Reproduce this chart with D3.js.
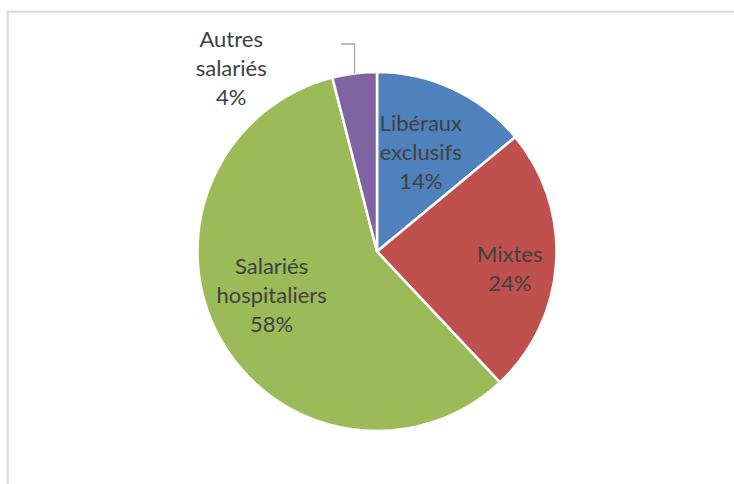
<!DOCTYPE html>
<html>
<head>
<meta charset="utf-8">
<script src="https://cdn.jsdelivr.net/npm/d3@7"></script>
<style>
  body { margin: 0; background: #fff; }
  svg { display: block; }
</style>
</head>
<body>
<svg id="chart" width="734" height="484"></svg>
<script>
// data
var categories = ["Libéraux exclusifs", "Mixtes", "Salariés hospitaliers", "Autres salariés"];
var values = [14, 24, 58, 4];
var labelLines = [["Libéraux", "exclusifs"], ["Mixtes"], ["Salariés", "hospitaliers"], ["Autres", "salariés"]];
var colors = ["#4F81BD", "#C0504D", "#9BBB59", "#8064A2"];

// layout
var cx = 377, cy = 251.5, radius = 179.5;
var lineH = 29, fontSize = 22;
// label nudges from the mid-angle point at radius 110
var nudges = [[-3, 0], [23, 10], [-9, -9], [-132, -74]];

var svg = d3.select("#chart");

// chart area border (runs off page at right and bottom)
svg.append("rect")
	.attr("x", 7.7).attr("y", 11.7)
	.attr("width", 800).attr("height", 600)
	.attr("fill", "none")
	.attr("stroke", "#d9d9d9")
	.attr("stroke-width", 2);

var pie = d3.pie().sort(null).value(function(d) { return d; });
var arcs = pie(values);

var arc = d3.arc().innerRadius(0).outerRadius(radius);
var labelArc = d3.arc().innerRadius(110).outerRadius(110);
var edgeArc = d3.arc().innerRadius(radius).outerRadius(radius);

var g = svg.append("g").attr("transform", "translate(" + cx + "," + cy + ")");

g.selectAll("path.slice")
	.data(arcs)
	.enter().append("path")
	.attr("class", "slice")
	.attr("d", arc)
	.attr("fill", function(d, i) { return colors[i]; })
	.attr("stroke", "#fff")
	.attr("stroke-width", 2.5)
	.attr("stroke-linejoin", "round");

// leader line for the small outside slice
var last = arcs[3];
var p0 = edgeArc.centroid(last);
var elbowY = 44 - cy;
g.append("path")
	.attr("d", d3.line()([[p0[0], p0[1]], [p0[0], elbowY], [p0[0] - 13.5, elbowY]]))
	.attr("fill", "none")
	.attr("stroke", "#a6a6a6")
	.attr("stroke-width", 1.3);

// labels
arcs.forEach(function(d, i) {
	var c = labelArc.centroid(d);
	var x = c[0] + nudges[i][0];
	var y = c[1] + nudges[i][1];
	var lines = labelLines[i].concat([values[i] + "%"]);
	var n = lines.length;
	var t = g.append("text")
		.attr("text-anchor", "middle")
		.attr("font-family", "Lato, 'Open Sans', sans-serif")
		.attr("font-size", fontSize + "px")
		.attr("fill", "#404040");
	lines.forEach(function(s, k) {
		t.append("tspan")
			.attr("x", x)
			.attr("y", y + (k - (n - 1) / 2) * lineH + 8)
			.text(s);
	});
});
</script>
</body>
</html>
